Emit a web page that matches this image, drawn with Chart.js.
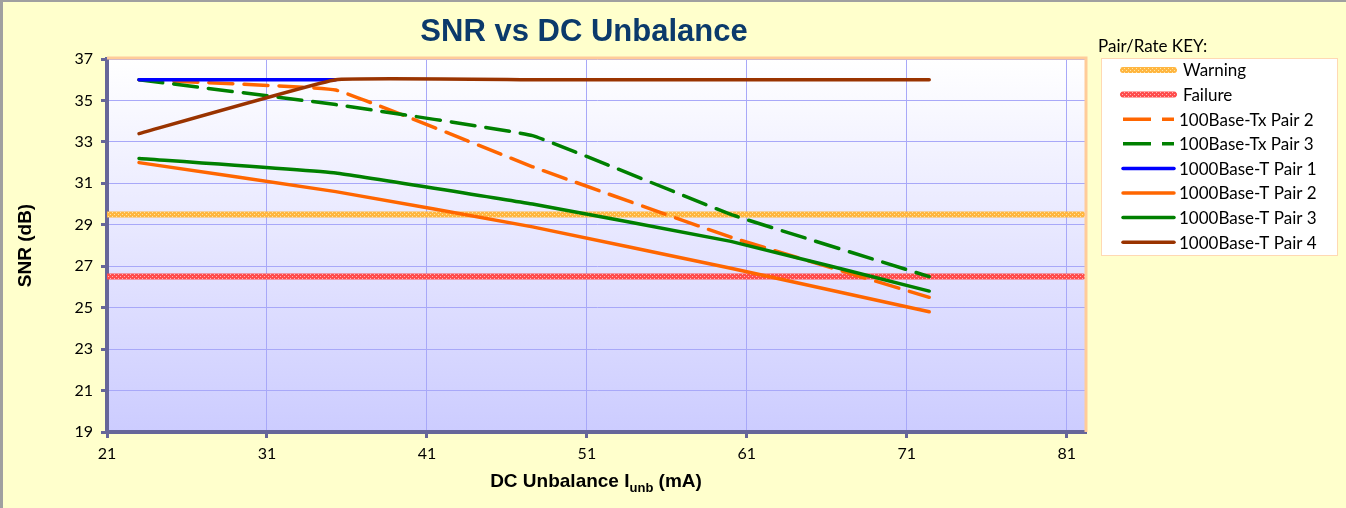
<!DOCTYPE html>
<html>
<head>
<meta charset="UTF-8">
<title>SNR vs DC Unbalance</title>
<script src="https://cdn.jsdelivr.net/npm/chart.js@4"></script>
<style>
  body { margin: 0; background: #FFFFCC; }
  canvas { display: block; }
</style>
</head>
<body>
<canvas id="myChart" width="1346" height="508"></canvas>
<script>
const currents = [23, 35.3, 47.6, 60, 72.4];
const tx100Pair2 = [36, 35.5, 31.8, 28.4, 25.5];
const tx100Pair3 = [36, 34.8, 33.3, 29.5, 26.5];
const t1000Pair1 = [36, 36];
const t1000Pair2 = [32.0, 30.6, 28.9, 26.9, 24.8];
const t1000Pair3 = [32.2, 31.5, 30.0, 28.2, 25.8];
const t1000Pair4 = [33.4, 36, 36, 36, 36];

// limit lines
const limitX = [21, 82];
const warningLevel = 29.5;
const failureLevel = 26.5;

const xTicks = [21, 31, 41, 51, 61, 71, 81];
const yTicks = [19, 21, 23, 25, 27, 29, 31, 33, 35, 37];

function pts(xs, ys) {
    return ys.map((y, i) => ({ x: xs[i], y: y }));
}

// Excel-like dotted fill for the limit lines
function hatch(base, dot) {
    const c = document.createElement('canvas');
    c.width = 4; c.height = 4;
    const g = c.getContext('2d');
    g.fillStyle = base;
    g.fillRect(0, 0, 4, 4);
    g.fillStyle = dot;
    g.fillRect(0, 0, 1, 1);
    g.fillRect(2, 2, 1, 1);
    return g.createPattern(c, 'repeat');
}

const canvas = document.getElementById('myChart');
const warnPattern = hatch('#FFB640', '#FFE6A8');
const failPattern = hatch('#FF4D4D', '#FFB8B8');

const dash = [24, 11];
const datasets = [
    { label: 'Warning', data: pts(limitX, [warningLevel, warningLevel]), borderColor: warnPattern, borderWidth: 6, order: 8 },
    { label: 'Failure', data: pts(limitX, [failureLevel, failureLevel]), borderColor: failPattern, borderWidth: 6, order: 7 },
    { label: '100Base-Tx Pair 2', data: pts(currents, tx100Pair2), borderColor: '#FF6600', borderDash: dash, order: 6 },
    { label: '100Base-Tx Pair 3', data: pts(currents, tx100Pair3), borderColor: '#008000', borderDash: dash, order: 5 },
    { label: '1000Base-T Pair 1', data: pts(currents, t1000Pair1), borderColor: '#0000FF', order: 4 },
    { label: '1000Base-T Pair 2', data: pts(currents, t1000Pair2), borderColor: '#FF6600', order: 3 },
    { label: '1000Base-T Pair 3', data: pts(currents, t1000Pair3), borderColor: '#008000', order: 2 },
    { label: '1000Base-T Pair 4', data: pts(currents, t1000Pair4), borderColor: '#993300', order: 1 }
];
datasets.forEach(d => {
    if (d.borderWidth === undefined) d.borderWidth = 3.5;
    d.tension = 0.08;
    d.pointRadius = 0;
    d.fill = false;
    d.borderCapStyle = 'round';
});

const tickFont = { family: 'Lato, "Open Sans", sans-serif', size: 16 };

// background, frame, titles and the key
const decor = {
    id: 'decor',
    beforeDraw(chart) {
        const ctx = chart.ctx;
        const a = chart.chartArea;
        ctx.save();
        ctx.fillStyle = '#FFFFCC';
        ctx.fillRect(0, 0, chart.width, chart.height);
        ctx.fillStyle = '#A0A0A0';
        ctx.fillRect(0, 0, chart.width, 2);
        ctx.fillRect(0, 0, 3, chart.height);
        const grad = ctx.createLinearGradient(0, a.top, 0, a.bottom);
        grad.addColorStop(0, '#FFFFFF');
        grad.addColorStop(1, '#CCCCFF');
        ctx.fillStyle = grad;
        ctx.fillRect(a.left, a.top, a.right - a.left, a.bottom - a.top);
        ctx.restore();
    },
    afterDraw(chart) {
        const ctx = chart.ctx;
        const a = chart.chartArea;
        ctx.save();
        // plot area border (top and right)
        ctx.strokeStyle = '#FFCC99';
        ctx.lineWidth = 3;
        ctx.beginPath();
        ctx.moveTo(a.left, a.top - 1);
        ctx.lineTo(a.right, a.top - 1);
        ctx.lineTo(a.right, a.bottom);
        ctx.stroke();

        // chart title
        ctx.fillStyle = '#0B3A6B';
        ctx.font = 'bold 31px "Liberation Sans", Arial, sans-serif';
        ctx.textAlign = 'center';
        ctx.textBaseline = 'middle';
        ctx.fillText('SNR vs DC Unbalance', 584, 32);

        // y axis title
        ctx.fillStyle = '#000';
        ctx.font = 'bold 19px "Liberation Sans", Arial, sans-serif';
        ctx.save();
        ctx.translate(26, (a.top + a.bottom) / 2);
        ctx.rotate(-Math.PI / 2);
        ctx.fillText('SNR (dB)', 0, 0);
        ctx.restore();

        // x axis title with subscript
        const big = 'bold 19px "Liberation Sans", Arial, sans-serif';
        const small = 'bold 13px "Liberation Sans", Arial, sans-serif';
        const p1 = 'DC Unbalance I', p2 = 'unb', p3 = ' (mA)';
        ctx.font = big; const w1 = ctx.measureText(p1).width, w3 = ctx.measureText(p3).width;
        ctx.font = small; const w2 = ctx.measureText(p2).width;
        let x = 596 - (w1 + w2 + w3) / 2;
        const base = 487;
        ctx.textAlign = 'left';
        ctx.textBaseline = 'alphabetic';
        ctx.font = big; ctx.fillText(p1, x, base); x += w1;
        ctx.font = small; ctx.fillText(p2, x, base + 5); x += w2;
        ctx.font = big; ctx.fillText(p3, x, base);

        // key
        ctx.font = '17px Lato, "Open Sans", sans-serif';
        ctx.fillText('Pair/Rate KEY:', 1098, 52);
        ctx.fillStyle = '#FFFFFF';
        ctx.fillRect(1101, 58, 236, 197);
        ctx.strokeStyle = '#FFD9B3';
        ctx.lineWidth = 1;
        ctx.strokeRect(1101.5, 58.5, 236, 197);
        chart.data.datasets.forEach((d, i) => {
            const y = 70 + i * 24.6;
            ctx.strokeStyle = d.borderColor;
            ctx.lineWidth = d.borderWidth;
            ctx.lineCap = d.borderDash ? 'butt' : 'round';
            ctx.setLineDash(d.borderDash ? [28, 11] : []);
            ctx.beginPath();
            ctx.moveTo(1123, y);
            ctx.lineTo(1174, y);
            ctx.stroke();
            ctx.setLineDash([]);
            ctx.fillStyle = '#000';
            ctx.textBaseline = 'middle';
            ctx.fillText(d.label, i < 2 ? 1183 : 1179, y + 1);
        });
        ctx.restore();
    }
};

new Chart(canvas, {
    type: 'line',
    data: { datasets: datasets },
    options: {
        responsive: false,
        animation: false,
        devicePixelRatio: 1,
        layout: { padding: { top: 59, right: 260, bottom: 0, left: 0 } },
        plugins: { legend: { display: false }, title: { display: false }, tooltip: { enabled: false } },
        scales: {
            x: {
                type: 'linear',
                min: 21,
                max: 82.2,
                afterBuildTicks: s => { s.ticks = xTicks.map(v => ({ value: v })); },
                afterFit: s => { s.height = 76; },
                ticks: { font: tickFont, color: '#000', padding: 6, maxRotation: 0, autoSkip: false },
                grid: { color: '#A8A8F8', lineWidth: 1, tickLength: 6, tickColor: '#666699', tickWidth: 3 },
                border: { color: '#666699', width: 4 }
            },
            y: {
                min: 19,
                max: 37,
                afterBuildTicks: s => { s.ticks = yTicks.map(v => ({ value: v })); },
                afterFit: s => { s.width = 107; },
                ticks: { font: tickFont, color: '#000', padding: 8 },
                grid: { color: '#A8A8F8', lineWidth: 1, tickLength: 6, tickColor: '#666699', tickWidth: 3 },
                border: { color: '#666699', width: 4 }
            }
        }
    },
    plugins: [decor]
});
</script>
</body>
</html>
